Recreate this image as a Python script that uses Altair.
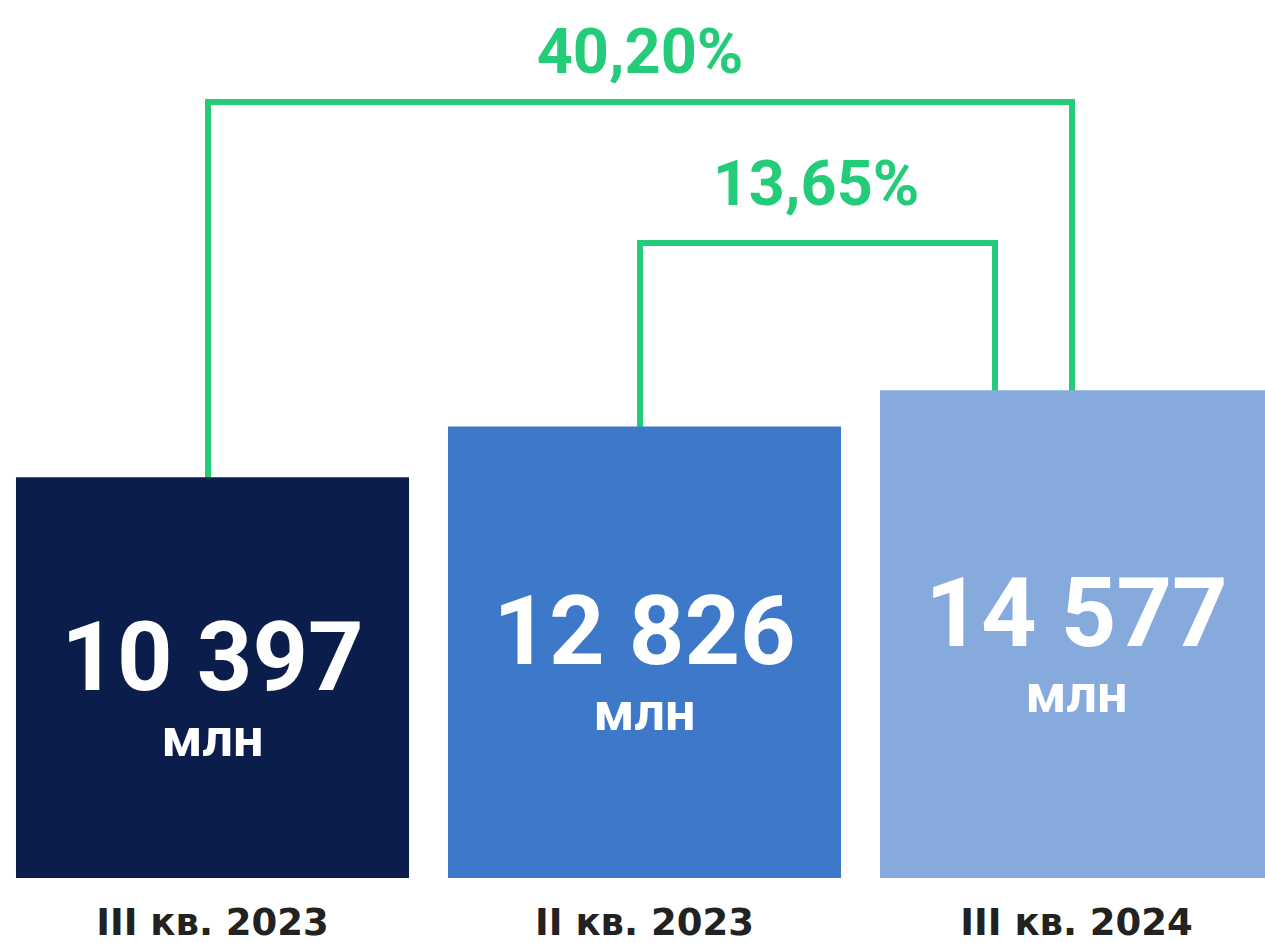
import altair as alt
import pandas as pd

# ---- data ----
categories = ["III кв. 2023", "II кв. 2023", "III кв. 2024"]
values = [10397, 12826, 14577]
value_labels = ["10 397", "12 826", "14 577"]
unit_labels = ["млн", "млн", "млн"]
colors = ["#0B1D4A", "#3E78C8", "#86AADC"]

conn_from = [0, 1]          # index of the starting category
conn_to = [2, 2]            # index of the ending category
conn_labels = ["40,20%", "13,65%"]

# ---- styling / layout constants ----
HALF = 0.4549               # half bar width in category units
X_DOMAIN = [-0.4919, 2.4363]
Y_MIN, Y_MAX = -8833, 33297
LEVELS = [28403, 21637]     # bracket heights (y-scale units)
GREEN = "#24CC7A"
FONT = "Roboto"
CAT_FONT = "DejaVu Sans"

df = pd.DataFrame({"idx": list(range(len(categories))), "cat": categories,
                   "value": values, "vlabel": value_labels, "unit": unit_labels,
                   "color": colors})

xscale = alt.Scale(domain=X_DOMAIN, nice=False, zero=False)
yscale = alt.Scale(domain=[Y_MIN, Y_MAX], zero=False, nice=False)

base = alt.Chart(df).transform_calculate(
    x0=f"datum.idx - {HALF}", x1=f"datum.idx + {HALF}",
    y0=f"{Y_MIN}", mid=f"(datum.value + {Y_MIN}) / 2")

bars = base.mark_rect().encode(
    x=alt.X("x0:Q", scale=xscale, axis=None),
    x2="x1:Q",
    y=alt.Y("value:Q", scale=yscale, axis=None),
    y2="y0:Q",
    color=alt.Color("color:N", scale=None),
)

vtext = base.mark_text(font=FONT, fontWeight="bold", fontSize=97, color="white",
                       baseline="alphabetic", dy=12).encode(
    x=alt.X("idx:Q", scale=xscale, axis=None), y=alt.Y("mid:Q", scale=yscale, axis=None),
    text="vlabel:N")
utext = base.mark_text(font=FONT, fontWeight="bold", fontSize=54, color="white",
                       baseline="alphabetic", dy=78).encode(
    x=alt.X("idx:Q", scale=xscale, axis=None), y=alt.Y("mid:Q", scale=yscale, axis=None),
    text="unit:N")
ctext = base.mark_text(font=CAT_FONT, fontWeight="bold", fontSize=37, color="#222222",
                       baseline="alphabetic", dy=57).encode(
    x=alt.X("idx:Q", scale=xscale, axis=None), y=alt.Y("y0:Q", scale=yscale, axis=None),
    text="cat:N")


def connector(i, off_from, off_to, label_pos, label_dy):
    a, b = conn_from[i], conn_to[i]
    d = pd.DataFrame({"xa": [a + off_from], "xb": [b + off_to],
                      "va": [values[a]], "vb": [values[b]], "lev": [LEVELS[i]],
                      "lx": [label_pos], "lab": [conn_labels[i]]})
    c = alt.Chart(d)
    rule_kw = dict(color=GREEN, strokeWidth=6, strokeCap="square")
    left = c.mark_rule(**rule_kw).encode(
        x=alt.X("xa:Q", scale=xscale, axis=None),
        y=alt.Y("va:Q", scale=yscale, axis=None), y2="lev:Q")
    right = c.mark_rule(**rule_kw).encode(
        x=alt.X("xb:Q", scale=xscale, axis=None),
        y=alt.Y("vb:Q", scale=yscale, axis=None), y2="lev:Q")
    horiz = c.mark_rule(**rule_kw).encode(
        x=alt.X("xa:Q", scale=xscale, axis=None), x2="xb:Q",
        y=alt.Y("lev:Q", scale=yscale, axis=None))
    lab = c.mark_text(font=FONT, fontWeight="bold", fontSize=63, color=GREEN,
                      baseline="alphabetic", dy=label_dy).encode(
        x=alt.X("lx:Q", scale=xscale, axis=None),
        y=alt.Y("lev:Q", scale=yscale, axis=None), text="lab:N")
    return [left, right, horiz, lab]


layers = connector(0, -0.0104, -0.0104, 0.9896, -29) + \
         connector(1, -0.0104, -0.1887, 1.397, -38)

chart = alt.layer(*layers, bars, vtext, utext, ctext).properties(
    width=1265, height=878,
    background="white",
    autosize=alt.AutoSizeParams(type="none"),
    padding={"left": 0, "top": 0, "right": 0, "bottom": 65},
).configure_view(stroke=None)

chart.save("out.html", embed_options={"renderer": "svg", "actions": False})
